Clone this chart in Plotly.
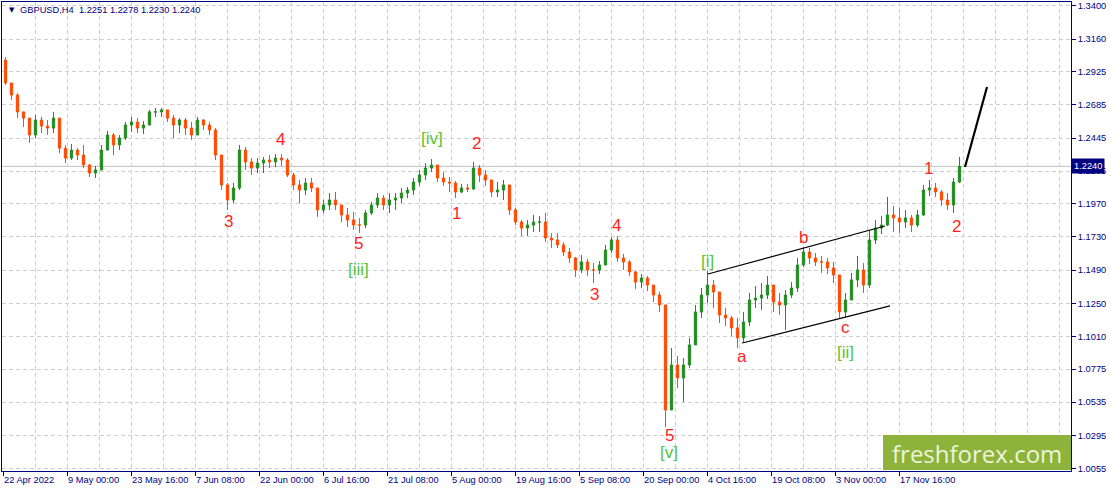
import plotly.graph_objects as go

# ---------------- data ----------------
symbol_title = "GBPUSD,H4  1.2251 1.2278 1.2230 1.2240"
bars_per_candle = 6          # each drawn candle aggregates six H4 bars
open_first = 1.3009

close = [
    1.2843, 1.2756, 1.2634, 1.2589, 1.2467, 1.2575, 1.2532, 1.2517, 1.2589, 1.2372,
    1.2300, 1.2358, 1.2322, 1.2250, 1.2192, 1.2214, 1.2358, 1.2467, 1.2395, 1.2445,
    1.2539, 1.2561, 1.2517, 1.2539, 1.2634, 1.2634, 1.2648, 1.2589, 1.2539, 1.2575,
    1.2517, 1.2467, 1.2575, 1.2539, 1.2503, 1.2322, 1.2106, 1.1997, 1.2084, 1.2358,
    1.2272, 1.2228, 1.2264, 1.2286, 1.2272, 1.2300, 1.2286, 1.2178, 1.2106, 1.2069,
    1.2120, 1.2084, 1.1925, 1.1961, 1.1997, 1.1961, 1.1889, 1.1852, 1.1816, 1.1816,
    1.1903, 1.1961, 1.2011, 1.1961, 1.1997, 1.2011, 1.2047, 1.2069, 1.2127, 1.2178,
    1.2228, 1.2250, 1.2156, 1.2127, 1.2120, 1.2055, 1.2084, 1.2077, 1.2228, 1.2178,
    1.2142, 1.2055, 1.2069, 1.2106, 1.1925, 1.1838, 1.1794, 1.1816, 1.1838, 1.1838,
    1.1722, 1.1708, 1.1672, 1.1621, 1.1578, 1.1491, 1.1549, 1.1491, 1.1491, 1.1527,
    1.1635, 1.1708, 1.1578, 1.1549, 1.1477, 1.1404, 1.1433, 1.1382, 1.1310, 1.1238,
    1.0479, 1.0804, 1.0710, 1.0804, 1.0949, 1.1187, 1.1310, 1.1382, 1.1332, 1.1166,
    1.1144, 1.1072, 1.1000, 1.1115, 1.1274, 1.1288, 1.1310, 1.1382, 1.1260, 1.1238,
    1.1310, 1.1361, 1.1527, 1.1621, 1.1578, 1.1549, 1.1549, 1.1506, 1.1455, 1.1187,
    1.1274, 1.1419, 1.1491, 1.1382, 1.1708, 1.1794, 1.1816, 1.1889, 1.1867, 1.1838,
    1.1867, 1.1816, 1.1889, 1.2069, 1.2084, 1.2055, 1.1997, 1.1961, 1.2127, 1.2240,
]
high = [
    1.3031, 1.2829, 1.2770, 1.2626, 1.2561, 1.2612, 1.2597, 1.2575, 1.2634, 1.2589,
    1.2395, 1.2402, 1.2372, 1.2395, 1.2257, 1.2243, 1.2395, 1.2496, 1.2481, 1.2467,
    1.2561, 1.2597, 1.2589, 1.2568, 1.2648, 1.2662, 1.2662, 1.2641, 1.2612, 1.2589,
    1.2589, 1.2561, 1.2597, 1.2582, 1.2561, 1.2517, 1.2322, 1.2120, 1.2120, 1.2395,
    1.2380, 1.2300, 1.2300, 1.2308, 1.2322, 1.2329, 1.2329, 1.2300, 1.2192, 1.2142,
    1.2156, 1.2156, 1.2084, 1.1997, 1.2047, 1.2055, 1.1961, 1.1939, 1.1910, 1.1867,
    1.1925, 1.1983, 1.2047, 1.2033, 1.2047, 1.2047, 1.2084, 1.2091, 1.2156, 1.2214,
    1.2264, 1.2293, 1.2228, 1.2199, 1.2163, 1.2134, 1.2113, 1.2113, 1.2272, 1.2250,
    1.2214, 1.2127, 1.2127, 1.2142, 1.2084, 1.1939, 1.1852, 1.1852, 1.1889, 1.1881,
    1.1903, 1.1758, 1.1758, 1.1693, 1.1650, 1.1585, 1.1599, 1.1571, 1.1541, 1.1556,
    1.1672, 1.1729, 1.1737, 1.1607, 1.1563, 1.1484, 1.1462, 1.1448, 1.1375, 1.1332,
    1.1238, 1.0927, 1.0869, 1.0855, 1.1000, 1.1238, 1.1361, 1.1484, 1.1419, 1.1332,
    1.1216, 1.1158, 1.1144, 1.1187, 1.1325, 1.1375, 1.1397, 1.1448, 1.1361, 1.1325,
    1.1346, 1.1404, 1.1578, 1.1657, 1.1650, 1.1614, 1.1592, 1.1578, 1.1549, 1.1419,
    1.1325, 1.1469, 1.1592, 1.1541, 1.1780, 1.1852, 1.1881, 1.2019, 1.1954, 1.1939,
    1.1925, 1.1889, 1.1925, 1.2106, 1.2142, 1.2120, 1.2069, 1.2047, 1.2156, 1.2308,
]
low = [
    1.2829, 1.2720, 1.2589, 1.2525, 1.2409, 1.2445, 1.2481, 1.2467, 1.2481, 1.2336,
    1.2264, 1.2286, 1.2286, 1.2228, 1.2163, 1.2156, 1.2214, 1.2358, 1.2322, 1.2358,
    1.2431, 1.2489, 1.2481, 1.2474, 1.2539, 1.2597, 1.2597, 1.2561, 1.2445, 1.2481,
    1.2467, 1.2431, 1.2489, 1.2503, 1.2467, 1.2286, 1.2069, 1.1925, 1.1975, 1.2069,
    1.2214, 1.2178, 1.2192, 1.2192, 1.2228, 1.2235, 1.2243, 1.2163, 1.2069, 1.1975,
    1.2033, 1.2055, 1.1874, 1.1903, 1.1925, 1.1925, 1.1838, 1.1801, 1.1780, 1.1758,
    1.1794, 1.1889, 1.1939, 1.1925, 1.1903, 1.1925, 1.1975, 1.2011, 1.2033, 1.2099,
    1.2142, 1.2199, 1.2127, 1.2099, 1.2055, 1.2011, 1.2047, 1.2055, 1.2069, 1.2127,
    1.2099, 1.2019, 1.2019, 1.1997, 1.1889, 1.1816, 1.1737, 1.1737, 1.1766, 1.1766,
    1.1693, 1.1650, 1.1650, 1.1592, 1.1541, 1.1440, 1.1469, 1.1448, 1.1397, 1.1462,
    1.1541, 1.1614, 1.1549, 1.1491, 1.1448, 1.1353, 1.1361, 1.1339, 1.1260, 1.1187,
    1.0356, 1.0565, 1.0638, 1.0537, 1.0782, 1.1000, 1.1144, 1.1252, 1.1216, 1.1108,
    1.1086, 1.1014, 1.0927, 1.0971, 1.1086, 1.1216, 1.1202, 1.1281, 1.1187, 1.1166,
    1.1057, 1.1288, 1.1332, 1.1513, 1.1534, 1.1520, 1.1469, 1.1462, 1.1397, 1.1144,
    1.1151, 1.1288, 1.1368, 1.1325, 1.1361, 1.1679, 1.1751, 1.1809, 1.1766, 1.1758,
    1.1794, 1.1766, 1.1801, 1.1881, 1.2026, 1.2019, 1.1954, 1.1925, 1.1903, 1.2120,
]

tick_labels = [
    "22 Apr 2022", "9 May 00:00", "23 May 16:00", "7 Jun 08:00", "22 Jun 00:00",
    "6 Jul 16:00", "21 Jul 08:00", "5 Aug 00:00", "19 Aug 16:00", "5 Sep 08:00",
    "20 Sep 00:00", "4 Oct 16:00", "19 Oct 08:00", "3 Nov 00:00", "17 Nov 16:00",
]
bars_per_label = 64
total_bars = 1069

y_ticks = [1.3400, 1.3160, 1.2925, 1.2685, 1.2445, 1.2205, 1.1970, 1.1730,
           1.1490, 1.1250, 1.1010, 1.0775, 1.0535, 1.0295, 1.0055]
y_min, y_max = 1.00377, 1.34285
last_price = 1.2240

wave_text = ["3", "4", "5", "[iii]", "[iv]", "2", "1", "4", "3", "5", "[v]",
             "[i]", "a", "b", "c", "[ii]", "1", "2"]
wave_bar = [225, 277, 355, 355, 429, 473, 453, 613, 591, 666, 666,
            704, 739, 800, 842, 842, 925, 953]
wave_price = [1.1838, 1.2438, 1.1679, 1.1498, 1.2445, 1.2409, 1.1896, 1.1816,
              1.1317, 1.0298, 1.0175, 1.1549, 1.0866, 1.1729, 1.1072, 1.0898,
              1.2228, 1.1802]
wave_degree = ["minor", "minor", "minor", "major", "major", "minor", "minor",
               "minor", "minor", "minor", "major", "major", "minor", "minor",
               "minor", "major", "minor", "minor"]

channel_upper_bar = [705, 882]
channel_upper_price = [1.1462, 1.1809]
channel_lower_bar = [739, 887]
channel_lower_price = [1.0963, 1.1231]
forecast_bar = [962, 984]
forecast_price = [1.2236, 1.2814]

# ---------------- styling ----------------
NAVY = "#000080"
GRID = "#cfcfcf"
UP = "#228b22"
DOWN = "#ff4a00"
RED_TXT = "#ff1f1f"
GREEN_TXT = "#55c437"
FONT = "Liberation Sans"

n = len(close)
opens = [open_first] + close[:-1]
hi = [max(h, o, c) for h, o, c in zip(high, opens, close)]
lo = [min(l, o, c) for l, o, c in zip(low, opens, close)]
xs = [k * bars_per_candle + (bars_per_candle - 1) / 2 for k in range(n)]

fig = go.Figure()
fig.add_trace(go.Candlestick(
    x=xs, open=opens, high=hi, low=lo, close=close,
    increasing=dict(line=dict(color=UP, width=1), fillcolor=UP),
    decreasing=dict(line=dict(color=DOWN, width=1), fillcolor=DOWN),
    whiskerwidth=0, hoverinfo="skip", showlegend=False,
))

major_x = [i * bars_per_label for i in range(len(tick_labels))]
half = bars_per_label // 2
minor_x = [v for v in range(0, total_bars, half) if v not in major_x]

fig.update_layout(
    width=1111, height=492,
    margin=dict(l=2, r=40, t=2, b=21),
    paper_bgcolor="white", plot_bgcolor="white",
    showlegend=False, boxgap=0.45,
    xaxis=dict(
        range=[-1, total_bars - 1], rangeslider=dict(visible=False),
        tickvals=major_x, ticktext=tick_labels,
        ticks="outside", ticklen=4, tickcolor=NAVY,
        ticklabelposition="outside right",
        tickfont=dict(family=FONT, size=9.3, color=NAVY),
        showline=True, linecolor=NAVY, linewidth=1, mirror=True,
        showgrid=True, gridcolor=GRID, griddash="4px,3px", gridwidth=1,
        zeroline=False, fixedrange=True,
        minor=dict(tickvals=minor_x, showgrid=True, gridcolor=GRID,
                   griddash="4px,3px", ticks=""),
    ),
    yaxis=dict(
        side="right", range=[y_min, y_max],
        tickvals=y_ticks, tickformat=".4f",
        ticks="outside", ticklen=4, tickcolor=NAVY,
        tickfont=dict(family=FONT, size=9.3, color=NAVY),
        showline=True, linecolor=NAVY, linewidth=1, mirror=True,
        showgrid=True, gridcolor=GRID, griddash="4px,3px", gridwidth=1,
        zeroline=False, fixedrange=True,
    ),
)

# bid line
fig.add_shape(type="line", xref="paper", yref="y", x0=0, x1=1,
              y0=last_price, y1=last_price, layer="below",
              line=dict(color="#c0c0c0", width=1))

# channel and forecast lines
fig.add_shape(type="line", xref="x", yref="y",
              x0=channel_upper_bar[0], y0=channel_upper_price[0],
              x1=channel_upper_bar[1], y1=channel_upper_price[1],
              line=dict(color="black", width=1.2))
fig.add_shape(type="line", xref="x", yref="y",
              x0=channel_lower_bar[0], y0=channel_lower_price[0],
              x1=channel_lower_bar[1], y1=channel_lower_price[1],
              line=dict(color="black", width=1.2))
fig.add_shape(type="line", xref="x", yref="y",
              x0=forecast_bar[0], y0=forecast_price[0],
              x1=forecast_bar[1], y1=forecast_price[1],
              line=dict(color="black", width=2.2))

# wave labels
for t, b, p, d in zip(wave_text, wave_bar, wave_price, wave_degree):
    fig.add_annotation(x=b, y=p, xref="x", yref="y", text=t, showarrow=False,
                       font=dict(family=FONT, size=17,
                                 color=GREEN_TXT if d == "major" else RED_TXT))

# title
fig.add_annotation(xref="paper", yref="paper", x=0, y=1, xshift=5, yshift=-8,
                   xanchor="left", yanchor="middle", text="▼", showarrow=False,
                   font=dict(family="DejaVu Sans", size=7, color=NAVY))
fig.add_annotation(xref="paper", yref="paper", x=0, y=1, xshift=16, yshift=-8,
                   xanchor="left", yanchor="middle", text=symbol_title,
                   showarrow=False, font=dict(family=FONT, size=9.3, color=NAVY))

# current price tag
fig.add_annotation(xref="paper", yref="y", x=1, y=last_price, xanchor="left",
                   yanchor="middle", xshift=0, text=f"{last_price:.4f}",
                   showarrow=False, bgcolor=NAVY, borderpad=2,
                   font=dict(family=FONT, size=9.3, color="white"))

# watermark
fig.add_shape(type="rect", xref="paper", yref="paper",
              x0=(883 - 2) / 1069, x1=1.0, y0=1 / 469, y1=36 / 469,
              fillcolor="#8db33a", line=dict(width=0), layer="above")
fig.add_annotation(xref="paper", yref="paper", x=(977 - 2) / 1069, y=18 / 469,
                   xanchor="center", yanchor="middle", text="freshforex.com",
                   showarrow=False,
                   font=dict(family="Open Sans", size=24, color="#eef4dc"))

fig.write_html("out.html",
               config={"displayModeBar": False},
               post_script="document.body.style.margin='0';"
                           "document.body.style.overflow='hidden';")
